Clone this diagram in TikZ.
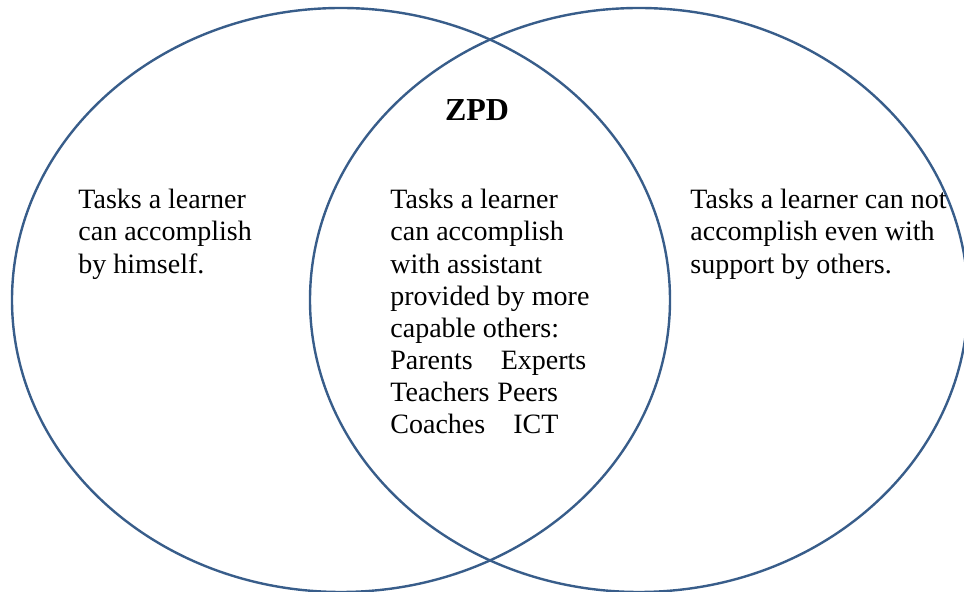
\documentclass[tikz,border=0pt]{standalone}
\usepackage{fontspec}
\setmainfont{Liberation Serif}
\definecolor{denimblue}{RGB}{56, 93, 138}

\begin{document}
\begin{tikzpicture}[x=0.5pt, y=-0.5pt,
    tasktext/.style={anchor=north west, inner sep=0pt, align=left,
                     font=\fontsize{14}{16.05}\selectfont}]
    % Frame to fix the page size
    \useasboundingbox (0,0) rectangle (964,592);
    % Own ability
    \draw[denimblue, line width=1.2pt] (341,300) ellipse (329 and 292);
    % Beyond reach
    \draw[denimblue, line width=1.2pt] (639,300) ellipse (329 and 292);
    % Overlap title
    \node[anchor=base, inner sep=0pt, font=\bfseries\fontsize{16}{19}\selectfont]
        (zpd) at (477,121) {ZPD};
    % Texts
    \node[tasktext] (alone)    at (78,189)  {Tasks a learner\\can accomplish\\by himself.};
    \node[tasktext] (assisted) at (390,189) {Tasks a learner\\can accomplish\\with assistant\\provided by more\\capable others:\\Parents\quad Experts\\Teachers\hspace{4pt}Peers\\Coaches\quad ICT};
    \node[tasktext] (beyond)   at (690,189) {Tasks a learner can not\\accomplish even with\\support by others.};
\end{tikzpicture}
\end{document}
